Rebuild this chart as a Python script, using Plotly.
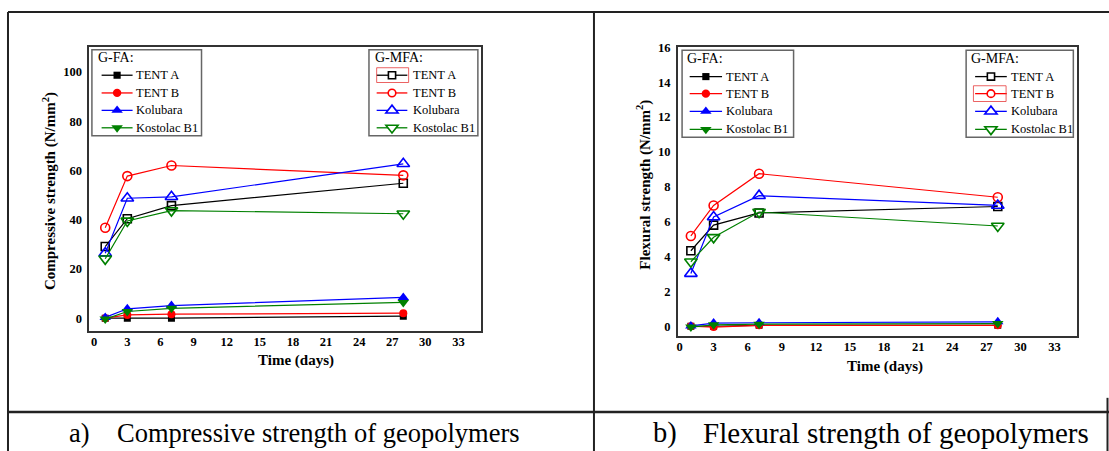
import math
import plotly.graph_objects as go

W, H = 1109, 451
SERIF = "Liberation Serif"

# ---------------- data ----------------
days = [1, 3, 7, 28]
series_names = ["TENT A", "TENT B", "Kolubara", "Kostolac B1"]

# Compressive strength (N/mm2)
comp_gfa_tent_a = [0.0, 0.0, 0.0, 0.8]
comp_gfa_tent_b = [0.0, 1.3, 1.6, 2.0]
comp_gfa_kolubara = [0.3, 3.8, 5.1, 8.4]
comp_gfa_kostolac = [-0.4, 2.7, 4.0, 6.4]

comp_gmfa_tent_a = [29.1, 40.4, 45.7, 54.8]
comp_gmfa_tent_b = [36.7, 57.7, 62.0, 58.0]
comp_gmfa_kolubara = [26.4, 48.7, 49.3, 62.7]
comp_gmfa_kostolac = [24.1, 39.5, 43.7, 42.4]

# Flexural strength (N/mm2)
flex_gfa_tent_a = [0.0, 0.0, 0.05, 0.05]
flex_gfa_tent_b = [0.0, -0.05, 0.05, 0.05]
flex_gfa_kolubara = [0.02, 0.18, 0.2, 0.25]
flex_gfa_kostolac = [-0.05, 0.08, 0.12, 0.15]

flex_gmfa_tent_a = [4.33, 5.8, 6.5, 6.87]
flex_gmfa_tent_b = [5.18, 6.93, 8.75, 7.4]
flex_gmfa_kolubara = [3.02, 6.27, 7.49, 6.93]
flex_gmfa_kostolac = [3.7, 5.1, 6.55, 5.75]

x_ticks = [0, 3, 6, 9, 12, 15, 18, 21, 24, 27, 30, 33]
comp_ticks = [0, 20, 40, 60, 80, 100]
flex_ticks = [0, 2, 4, 6, 8, 10, 12, 14, 16]

colors = ["#000000", "#ff0000", "#0000ff", "#008000"]
filled_symbols = ["square", "circle", "triangle-up", "triangle-down"]
open_symbols = ["square-open", "circle-open", "triangle-up-open", "triangle-down-open"]
marker_sizes = [7, 8, 10, 10]


def X(px):
    return px / W


def Y(py):
    return 1 - py / H


fig = go.Figure()

panels = [
    ("x", "y", [comp_gfa_tent_a, comp_gfa_tent_b, comp_gfa_kolubara, comp_gfa_kostolac],
     [comp_gmfa_tent_a, comp_gmfa_tent_b, comp_gmfa_kolubara, comp_gmfa_kostolac]),
    ("x2", "y2", [flex_gfa_tent_a, flex_gfa_tent_b, flex_gfa_kolubara, flex_gfa_kostolac],
     [flex_gmfa_tent_a, flex_gmfa_tent_b, flex_gmfa_kolubara, flex_gmfa_kostolac]),
]

for xa, ya, gfa, gmfa in panels:
    for i in range(4):
        fig.add_trace(go.Scatter(
            x=days, y=gmfa[i], mode="lines+markers", name="G-MFA " + series_names[i],
            xaxis=xa, yaxis=ya, showlegend=False,
            line=dict(color=colors[i], width=1.2),
            marker=dict(symbol=open_symbols[i], size=marker_sizes[i] + 1,
                        color=colors[i], line=dict(color=colors[i], width=1.6)),
        ))
    for i in range(4):
        fig.add_trace(go.Scatter(
            x=days, y=gfa[i], mode="lines+markers", name="G-FA " + series_names[i],
            xaxis=xa, yaxis=ya, showlegend=False,
            line=dict(color=colors[i], width=1.2),
            marker=dict(symbol=filled_symbols[i], size=marker_sizes[i],
                        color=colors[i], line=dict(width=0)),
        ))

axis_common = dict(
    showgrid=False, zeroline=False, showline=True, mirror=True,
    linecolor="#333333", linewidth=1.6,
    tickfont=dict(family=SERIF, size=12.5, color="#000000", weight="bold"),
)
x_extra = dict(ticks="", ticklabelstandoff=-2)
y_extra = dict(ticks="outside", ticklen=3, tickcolor="rgba(0,0,0,0)")

fig.update_layout(
    width=W, height=H, margin=dict(l=0, r=0, t=0, b=0),
    paper_bgcolor="white", plot_bgcolor="white", showlegend=False,
    xaxis=dict(domain=[X(88.3), X(480)], range=[-0.45, 35], tickvals=x_ticks, anchor="y", **axis_common, **x_extra),
    yaxis=dict(domain=[Y(329.3), Y(41)], range=[-5.3, 110], tickvals=comp_ticks, anchor="x", **axis_common, **y_extra),
    xaxis2=dict(domain=[X(677.3), X(1077.3)], range=[-0.16, 35], tickvals=x_ticks, anchor="y2", **axis_common, **x_extra),
    yaxis2=dict(domain=[Y(334), Y(41)], range=[-0.55, 16], tickvals=flex_ticks, anchor="x2", **axis_common, **y_extra),
)

annotations = []
shapes = []

# ---------------- legends (drawn as decoration) ----------------
legend_boxes = [
    # (box x0, y0, x1, y1, title, title_x, title_y, line_x0, line_x1, text_x, item_ys, filled)
    (91, 43.3, 200.7, 130.7, "G-FA:", 95, 51.7, 100.7, 131.7, 133.3, [69.3, 87.3, 105, 122.7], True),
    (368.3, 43.3, 477.3, 130.7, "G-MFA:", 372.7, 51.7, 376, 406.7, 410, [69.3, 87.3, 105, 122.7], False),
    (681.7, 44, 793.3, 132.3, "G-FA:", 685, 52.3, 689.3, 721.7, 724, [70.7, 88, 106, 124.3], True),
    (966, 44, 1073.3, 132.3, "G-MFA:", 969.3, 52.3, 975, 1006.7, 1009.3, [70.7, 88, 106, 124.3], False),
]


def marker_shape(kind, cx, cy, color, filled):
    fill = color if filled else "white"
    lw = 0 if filled else 1.6
    if kind == 0:
        h = 3.6 if filled else 3.6
        return dict(type="rect", x0=X(cx - h), x1=X(cx + h), y0=Y(cy - h), y1=Y(cy + h),
                    fillcolor=fill, line=dict(color=color, width=lw))
    if kind == 1:
        r = 4.2 if filled else 3.8
        return dict(type="circle", x0=X(cx - r), x1=X(cx + r), y0=Y(cy - r), y1=Y(cy + r),
                    fillcolor=fill, line=dict(color=color, width=lw))
    r = 5.0 if filled else 5.3
    rt = r * 2 / math.sqrt(3)
    r2 = r / 2
    if kind == 2:
        pts = [(cx - rt, cy + r2), (cx + rt, cy + r2), (cx, cy - r)]
    else:
        pts = [(cx - rt, cy - r2), (cx + rt, cy - r2), (cx, cy + r)]
    path = "M{:.5f},{:.5f} L{:.5f},{:.5f} L{:.5f},{:.5f} Z".format(
        X(pts[0][0]), Y(pts[0][1]), X(pts[1][0]), Y(pts[1][1]), X(pts[2][0]), Y(pts[2][1]))
    return dict(type="path", path=path, fillcolor=fill, line=dict(color=color, width=lw))


legend_font = dict(family=SERIF, size=12.5, color="#000000")
for (bx0, by0, bx1, by1, title, tx, ty, lx0, lx1, txt_x, ys, filled) in legend_boxes:
    shapes.append(dict(type="rect", x0=X(bx0), x1=X(bx1), y0=Y(by0), y1=Y(by1),
                       line=dict(color="#666666", width=1.5)))
    annotations.append(dict(text=title, x=X(tx), y=Y(ty), showarrow=False, xanchor="left", yanchor="middle",
                            font=dict(family=SERIF, size=14, color="#000000")))
    for i, yy in enumerate(ys):
        shapes.append(dict(type="line", x0=X(lx0), x1=X(lx1), y0=Y(yy), y1=Y(yy),
                           line=dict(color=colors[i], width=1.3)))
        shapes.append(marker_shape(i, (lx0 + lx1) / 2, yy, colors[i], filled))
        annotations.append(dict(text=series_names[i], x=X(txt_x), y=Y(yy), showarrow=False,
                                xanchor="left", yanchor="middle", font=legend_font))

# red highlight rectangles around a legend entry
shapes.append(dict(type="rect", x0=X(376), x1=X(408), y0=Y(61.7), y1=Y(76.7),
                   line=dict(color="rgba(230,60,60,0.8)", width=1)))
shapes.append(dict(type="rect", x0=X(973.3), x1=X(1006), y0=Y(80), y1=Y(96),
                   line=dict(color="rgba(230,60,60,0.8)", width=1)))

# ---------------- titles & captions ----------------
title_font = dict(family=SERIF, size=15, color="#000000", weight="bold")
annotations += [
    dict(text="Time (days)", x=X(295), y=Y(359), showarrow=False, font=title_font,
         xanchor="center", yanchor="middle"),
    dict(text="Time (days)", x=X(885), y=Y(365), showarrow=False, font=title_font,
         xanchor="center", yanchor="middle"),
    dict(text="Compressive strength (N/mm<sup>2</sup>)", x=X(48), y=Y(187), showarrow=False,
         font=title_font, textangle=-90, xanchor="center", yanchor="middle"),
    dict(text="Flexural strength (N/mm<sup>2</sup>)", x=X(643), y=Y(180), showarrow=False,
         font=title_font, textangle=-90, xanchor="center", yanchor="middle"),
    dict(text="a)", x=X(66), y=Y(433), showarrow=False,
         font=dict(family=SERIF, size=26.5, color="#000000"), xanchor="left", yanchor="middle"),
    dict(text="Compressive strength of geopolymers", x=X(114), y=Y(433), showarrow=False,
         font=dict(family=SERIF, size=26.5, color="#000000"), xanchor="left", yanchor="middle"),
    dict(text="b)", x=X(651), y=Y(433), showarrow=False,
         font=dict(family=SERIF, size=28.5, color="#000000"), xanchor="left", yanchor="middle"),
    dict(text="Flexural strength of geopolymers", x=X(701), y=Y(433), showarrow=False,
         font=dict(family=SERIF, size=29, color="#000000"), xanchor="left", yanchor="middle"),
]
for a in annotations:
    a.update(xref="paper", yref="paper")

# ---------------- table borders ----------------
line_k = dict(color="#222222", width=2)
shapes += [
    dict(type="line", x0=X(7), x1=X(1109), y0=Y(5), y1=Y(5), line=line_k),
    dict(type="line", x0=X(7), x1=X(7), y0=Y(5), y1=Y(451), line=line_k),
    dict(type="line", x0=X(593.5), x1=X(593.5), y0=Y(5), y1=Y(451), line=line_k),
    dict(type="line", x0=X(7), x1=X(1109), y0=Y(411.5), y1=Y(411.5), line=dict(color="#222222", width=2.5)),
    dict(type="line", x0=X(1107.5), x1=X(1107.5), y0=Y(397), y1=Y(451), line=line_k),
]
for s in shapes:
    s.update(xref="paper", yref="paper", layer="above")

fig.update_layout(annotations=annotations, shapes=shapes)

fig.write_html("out.html", config={"displayModeBar": False},
               post_script="document.body.style.margin='0';")
